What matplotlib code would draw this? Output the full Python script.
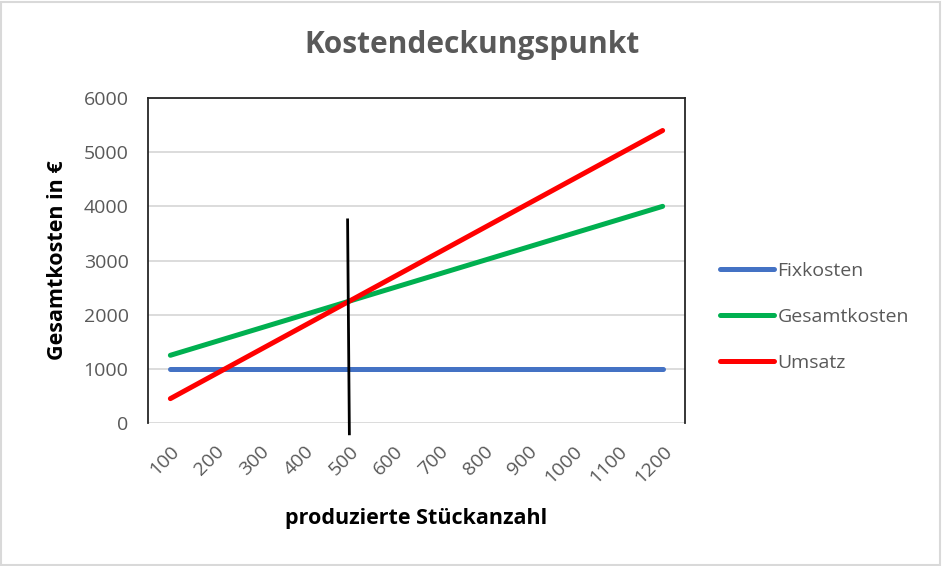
import numpy as np
import matplotlib
matplotlib.use("Agg")
import matplotlib.pyplot as plt
from matplotlib.patches import Rectangle

plt.rcParams["font.family"] = ["Open Sans", "DejaVu Sans"]

stueck = ["100", "200", "300", "400", "500", "600", "700", "800", "900", "1000", "1100", "1200"]
fixkosten = [1000, 1000, 1000, 1000, 1000, 1000, 1000, 1000, 1000, 1000, 1000, 1000]
gesamtkosten = [1250, 1500, 1750, 2000, 2250, 2500, 2750, 3000, 3250, 3500, 3750, 4000]
umsatz = [450, 900, 1350, 1800, 2250, 2700, 3150, 3600, 4050, 4500, 4950, 5400]

# Markierung Kostendeckungspunkt (Kategorie-Index, Wert)
marker_x = [3.96, 4.0]
marker_y = [3750, -200]

GRAY = "#595959"

fig = plt.figure(figsize=(9.43, 5.66), dpi=100)
ax = fig.add_axes([148 / 943, 1 - 423 / 566, (685 - 148) / 943, (423 - 98) / 566])

x = np.arange(len(stueck))
ax.plot(x, fixkosten, color="#4472C4", lw=3.6, solid_capstyle="round", label="Fixkosten", zorder=3)
ax.plot(x, gesamtkosten, color="#00B050", lw=3.6, solid_capstyle="round", label="Gesamtkosten", zorder=3)
ax.plot(x, umsatz, color="#FF0000", lw=3.6, solid_capstyle="round", label="Umsatz", zorder=4)
ax.plot(marker_x, marker_y, color="black", lw=2.0, clip_on=False, zorder=5)

ax.set_xlim(-0.5, len(stueck) - 0.5)
ax.set_ylim(0, 6000)
ax.set_yticks(np.arange(0, 6001, 1000))
ax.set_xticks(x)
ax.set_xticklabels(stueck, rotation=45, ha="right", va="top", rotation_mode="anchor")
ax.tick_params(axis="both", length=0, labelsize=14, labelcolor=GRAY)
ax.tick_params(axis="x", pad=14)
ax.tick_params(axis="y", pad=14)

ax.grid(axis="y", color="#D9D9D9", lw=1.3, zorder=0)
ax.set_axisbelow(True)
for s in ["left", "top", "right"]:
    ax.spines[s].set_color("#262626")
    ax.spines[s].set_linewidth(1.3)
ax.spines["bottom"].set_visible(False)

ax.set_ylabel("Gesamtkosten in €", fontsize=15.5, fontweight="bold", color="black", labelpad=11)
ax.set_xlabel("produzierte Stückanzahl", fontsize=15.5, fontweight="bold", color="black", labelpad=15)

fig.text(472 / 943, 1 - 45 / 566, "Kostendeckungspunkt", ha="center", va="center",
         fontsize=21.5, fontweight="bold", color=GRAY)

leg = ax.legend(loc="center left", bbox_to_anchor=(1.065, 0.326), frameon=False,
                fontsize=14, labelcolor=GRAY, handlelength=2.8, handletextpad=0.15,
                labelspacing=1.45, borderaxespad=0, borderpad=0)

fig.patches.append(Rectangle((0.001, 0.002), 0.996, 0.994, transform=fig.transFigure,
                             fill=False, edgecolor="#D9D9D9", lw=1.5))

fig.savefig("out.png", dpi=100)
